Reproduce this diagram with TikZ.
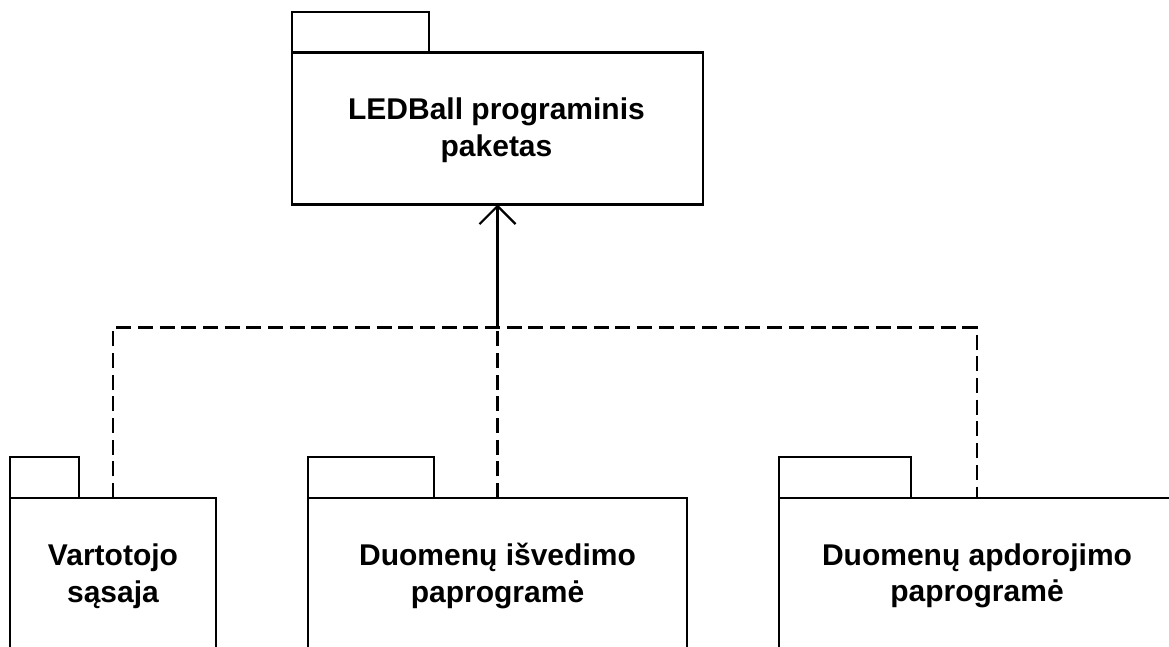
\documentclass[tikz,border=0pt]{standalone}
\usepackage{fontspec}
\setmainfont{Liberation Sans}
\usetikzlibrary{arrows.meta}
\begin{document}
\begin{tikzpicture}[x=1pt,y=-1pt,
  pkg/.style={draw=black, line width=2.8pt, inner sep=0pt, outer sep=0pt, anchor=north west},
  lbl/.style={font=\fontsize{30}{36.5}\selectfont\bfseries, align=center, inner sep=0pt},
  dep/.style={line width=2.8pt, dash pattern=on 15pt off 6.7pt},
  real/.style={line width=2.8pt, -{Straight Barb[length=18pt,width=36pt,line width=2.2pt]}}
]
\useasboundingbox (0,0) rectangle (1169,647);
\clip (0,0) rectangle (1169,647);
% top package
\node[pkg, minimum width=137pt, minimum height=40pt] (toptab) at (292,12) {};
\node[pkg, minimum width=411pt, minimum height=152pt] (top) at (292,52.5) {};
\node[lbl] (toplbl) at (496.5,130) {LEDBall programinis\\paketas};
% bottom packages
\node[pkg, minimum width=69pt, minimum height=41pt] (ltab) at (10,457) {};
\node[pkg, minimum width=206pt, minimum height=220pt] (left) at (10,498) {};
\node[lbl] (llbl) at (113,576) {Vartotojo\\sąsaja};
\node[pkg, minimum width=126pt, minimum height=41pt] (mtab) at (308,457) {};
\node[pkg, minimum width=379pt, minimum height=220pt] (mid) at (308,498) {};
\node[lbl] (mlbl) at (497.5,576) {Duomenų išvedimo\\paprogramė};
\node[pkg, minimum width=132pt, minimum height=41pt] (rtab) at (779,457) {};
\node[pkg, minimum width=396pt, minimum height=220pt] (right) at (779,498) {};
\node[lbl] (rlbl) at (977,576) {Duomenų apdorojimo\\paprogramė};
% connectors
\coordinate (j) at (497.5,327.5);
\coordinate (jl) at (113,327.5);
\coordinate (jr) at (977,327.5);
\draw[dep] (left.north west -| jl) -- (jl) -- (jr) -- (right.north west -| jr);
\draw[dep] (mid.north) -- (j);
\draw[real] (j) -- (top.south -| j);
\end{tikzpicture}
\end{document}
